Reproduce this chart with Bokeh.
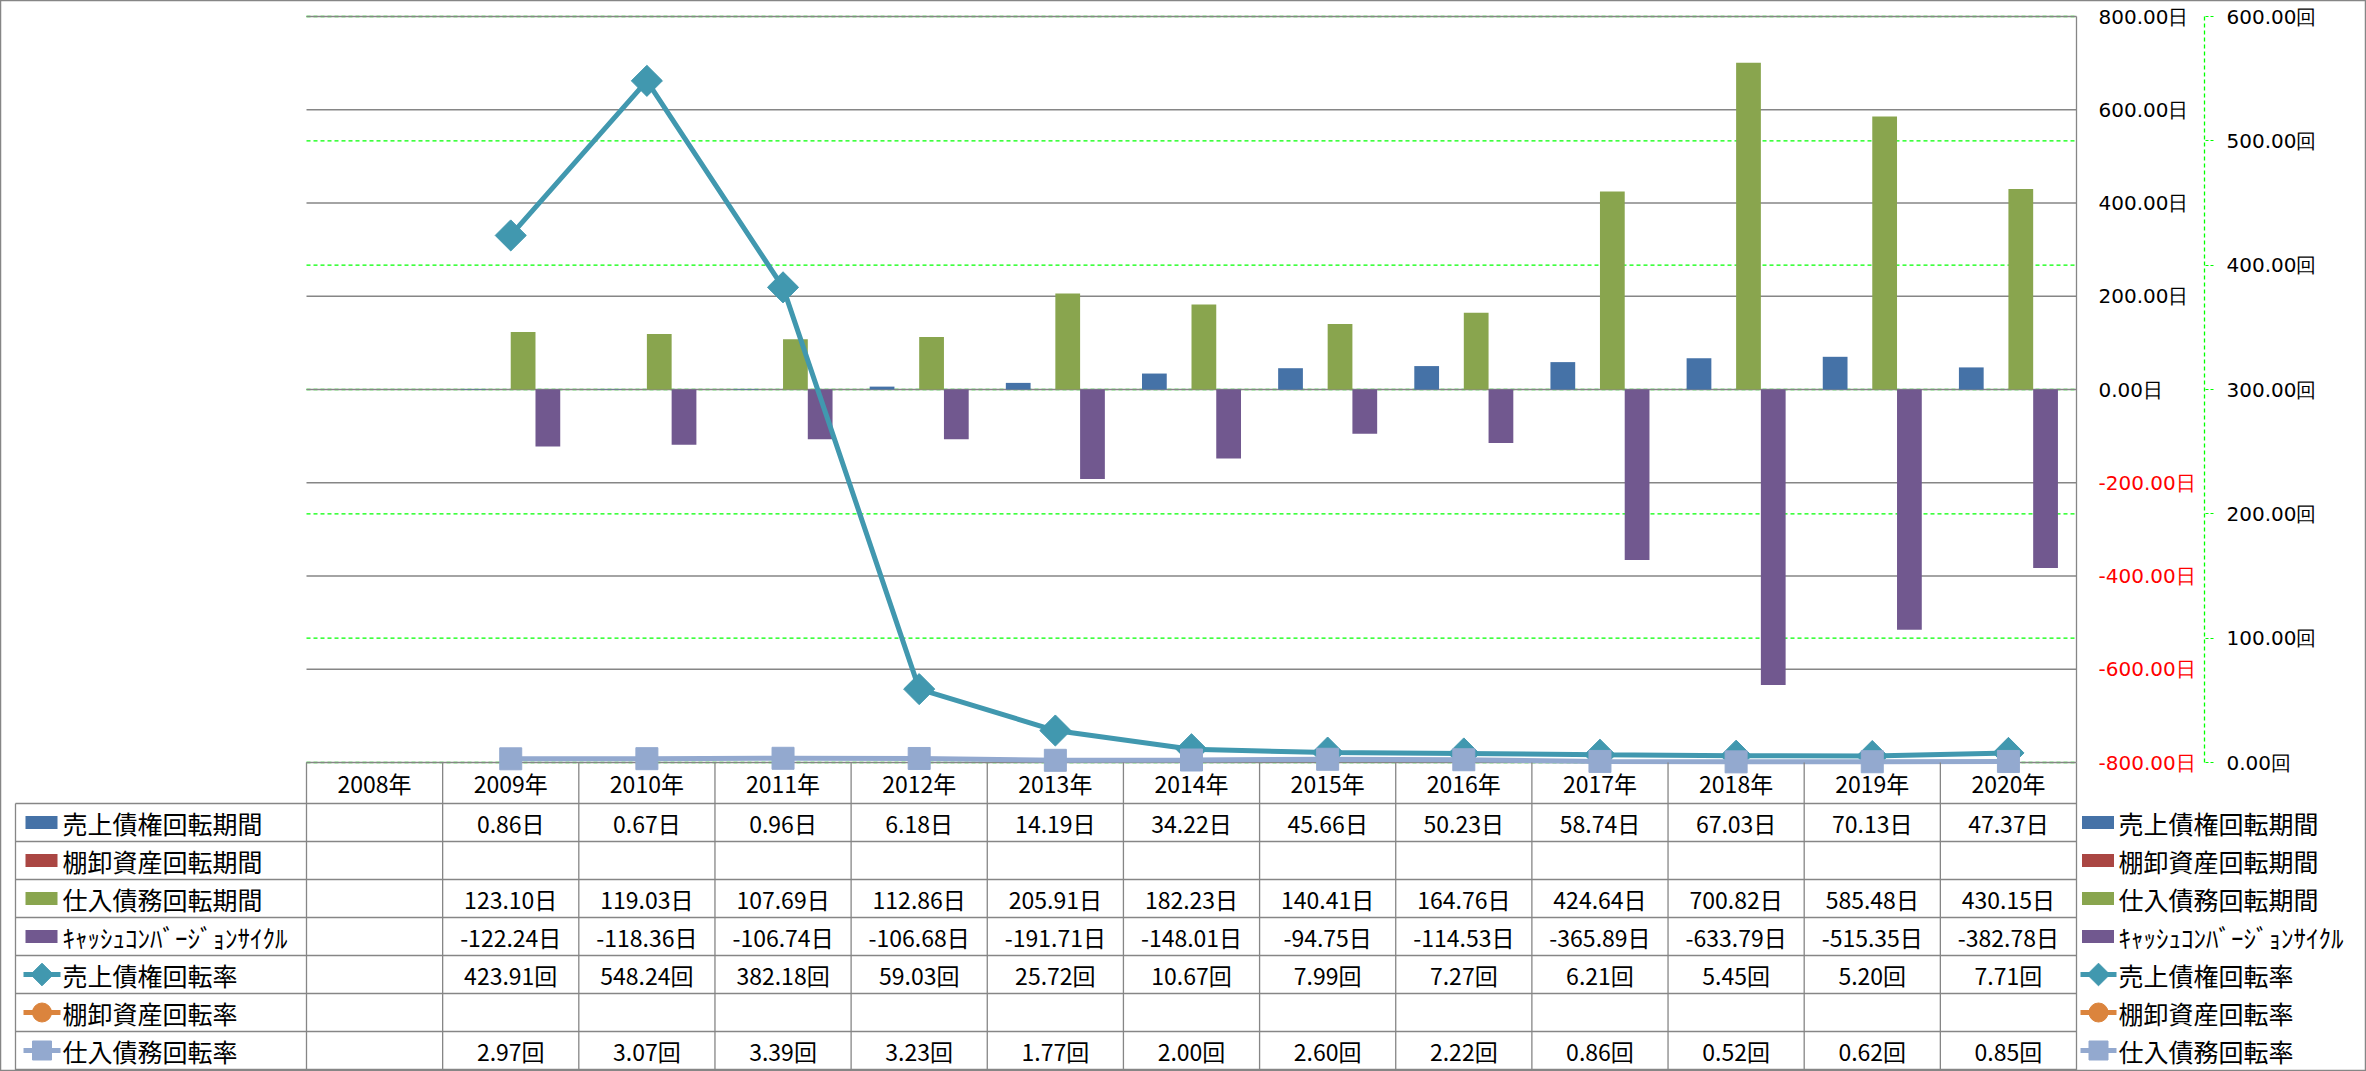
import numpy as np
from bokeh.plotting import figure
from bokeh.models import Range1d, LinearAxis, FixedTicker, CustomJSTickFormatter
from bokeh.embed import file_html
from bokeh.resources import INLINE
from bokeh.core.properties import value

# ---------------- data ----------------
years = ["2008年", "2009年", "2010年", "2011年", "2012年", "2013年", "2014年",
         "2015年", "2016年", "2017年", "2018年", "2019年", "2020年"]
ar_days = [None, 0.86, 0.67, 0.96, 6.18, 14.19, 34.22, 45.66, 50.23, 58.74, 67.03, 70.13, 47.37]
inv_days = [None] * 13
ap_days = [None, 123.10, 119.03, 107.69, 112.86, 205.91, 182.23, 140.41, 164.76, 424.64, 700.82, 585.48, 430.15]
ccc_days = [None, -122.24, -118.36, -106.74, -106.68, -191.71, -148.01, -94.75, -114.53, -365.89, -633.79, -515.35, -382.78]
ar_turn = [None, 423.91, 548.24, 382.18, 59.03, 25.72, 10.67, 7.99, 7.27, 6.21, 5.45, 5.20, 7.71]
inv_turn = [None] * 13
ap_turn = [None, 2.97, 3.07, 3.39, 3.23, 1.77, 2.00, 2.60, 2.22, 0.86, 0.52, 0.62, 0.85]

series_names = ["売上債権回転期間", "棚卸資産回転期間", "仕入債務回転期間", "ｷｬｯｼｭｺﾝﾊﾞｰｼﾞｮﾝｻｲｸﾙ",
                "売上債権回転率", "棚卸資産回転率", "仕入債務回転率"]
series_units = ["日", "日", "日", "日", "回", "回", "回"]
primary_ticks = [-800, -600, -400, -200, 0, 200, 400, 600, 800]
secondary_ticks = [0, 100, 200, 300, 400, 500, 600]

# ---------------- layout / style ----------------
W, H = 2366, 1071
PL, PR, PT, PB = 306, 2076, 16, 762          # plot area in px
HDR_B, ROW_H = 803, 38                        # table header bottom, row height
LEG_L = 15                                    # table legend column left edge
SEC_AXIS_X = 2204
n = len(years)
col = (PR - PL) / n
Y1MIN, Y1MAX = -800, 800
Y2MIN, Y2MAX = 0, 600
k1 = (PB - PT) / (Y1MAX - Y1MIN)
k2 = (PB - PT) / (Y2MAX - Y2MIN)

C_BLUE, C_RED, C_GREEN, C_PURPLE = "#4572A7", "#AA4643", "#89A54E", "#71588F"
C_TEAL, C_ORANGE, C_LBLUE = "#4198AF", "#DB843D", "#93A9CF"
GRID = "#868686"
FONT = "Noto Sans CJK JP"
AXFONT = "DejaVu Sans"


def arr(v):
    return np.array([np.nan if a is None else a for a in v], dtype=float)


p = figure(width=W, height=H, output_backend="svg", toolbar_location=None,
           x_range=Range1d(-PL / col, (W - PL) / col),
           y_range=Range1d(Y1MIN - (H - PB) / k1, Y1MAX + PT / k1),
           x_axis_type=None, y_axis_type=None, min_border=0)
p.extra_x_ranges = {"px": Range1d(0, W)}
p.extra_y_ranges = {"sec": Range1d(Y2MIN - (H - PB) / k2, Y2MAX + PT / k2),
                    "px": Range1d(H, 0)}
p.outline_line_color = GRID
p.outline_line_width = 1.5
p.background_fill_color = "white"
p.border_fill_color = "white"

xc = np.arange(n) + 0.5

# gridlines
p.segment(x0=0, x1=n, y0=secondary_ticks, y1=secondary_ticks, y_range_name="sec",
          line_color="#00FF00", line_width=1.3, line_dash="4 3")
p.segment(x0=0, x1=n, y0=primary_ticks, y1=primary_ticks,
          line_color=GRID, line_width=1.3)

# bars
bw = 1 / 5.5
bar_series = [(ar_days, C_BLUE), (inv_days, C_RED), (ap_days, C_GREEN), (ccc_days, C_PURPLE)]
for j, (vals, c) in enumerate(bar_series):
    p.vbar(x=xc + (j - 1.5) * bw, top=arr(vals), bottom=0, width=bw,
           fill_color=c, line_color=None)

# lines
p.line(xc, arr(ar_turn), y_range_name="sec", line_color=C_TEAL, line_width=5)
p.scatter(xc, arr(ar_turn), y_range_name="sec", marker="square", angle=np.pi / 4,
          size=22, fill_color=C_TEAL, line_color=C_TEAL)
p.line(xc, arr(inv_turn), y_range_name="sec", line_color=C_ORANGE, line_width=5)
p.scatter(xc, arr(inv_turn), y_range_name="sec", marker="circle",
          size=22, fill_color=C_ORANGE, line_color=C_ORANGE)
p.line(xc, arr(ap_turn), y_range_name="sec", line_color=C_LBLUE, line_width=5)
p.scatter(xc, arr(ap_turn), y_range_name="sec", marker="square",
          size=22, fill_color=C_LBLUE, line_color=C_LBLUE)

# ---------------- data table ----------------
row_tops = [HDR_B + ROW_H * r for r in range(len(series_names) + 1)]
row_centers = [HDR_B + ROW_H * r + ROW_H / 2 for r in range(len(series_names))]
# horizontal lines
p.segment(x0=LEG_L, x1=PR, y0=row_tops, y1=row_tops, x_range_name="px", y_range_name="px",
          line_color=GRID, line_width=1.3)
# vertical category lines
p.segment(x0=list(range(n + 1)), x1=list(range(n + 1)), y0=PB, y1=H, y_range_name="px",
          line_color=GRID, line_width=1.3)
p.segment(x0=[n], x1=[n], y0=[PT], y1=[PB], y_range_name="px", line_color=GRID, line_width=1.3)
p.segment(x0=[LEG_L], x1=[LEG_L], y0=[HDR_B], y1=[H], x_range_name="px", y_range_name="px",
          line_color=GRID, line_width=1.3)

# header
p.text(x=xc, y=[(PB + HDR_B) / 2] * n, text=years, y_range_name="px",
       text_align="center", text_baseline="middle", text_font=value(FONT),
       text_font_size="23px", text_color="black")

all_vals = [ar_days, inv_days, ap_days, ccc_days, ar_turn, inv_turn, ap_turn]
for r, (vals, unit) in enumerate(zip(all_vals, series_units)):
    txt = ["" if v is None else f"{v:.2f}{unit}" for v in vals]
    p.text(x=xc, y=[row_centers[r]] * n, text=txt, y_range_name="px",
           text_align="center", text_baseline="middle", text_font=value(FONT),
           text_font_size="23px", text_color="black")

# legend keys (in table and at right)
key_cols = [C_BLUE, C_RED, C_GREEN, C_PURPLE, C_TEAL, C_ORANGE, C_LBLUE]
key_markers = [None, None, None, None, "diamond", "circle", "square"]
for r, name in enumerate(series_names):
    yc = row_centers[r]
    if key_markers[r] is None:
        p.rect(x=[41, 2097.5], y=[yc, yc], width=32, height=13, x_range_name="px",
               y_range_name="px", fill_color=key_cols[r], line_color=None)
    else:
        p.segment(x0=[23, 2080], x1=[60, 2116], y0=[yc, yc], y1=[yc, yc], x_range_name="px",
                  y_range_name="px", line_color=key_cols[r], line_width=5)
        if key_markers[r] == "diamond":
            p.scatter(x=[41.5, 2098], y=[yc, yc], marker="square", angle=np.pi / 4, size=16,
                      x_range_name="px", y_range_name="px",
                      fill_color=key_cols[r], line_color=key_cols[r])
        else:
            p.scatter(x=[41.5, 2098], y=[yc, yc], marker=key_markers[r], size=19,
                      x_range_name="px", y_range_name="px",
                      fill_color=key_cols[r], line_color=key_cols[r])
    p.text(x=[62, 2118], y=[yc, yc], text=[name, name], x_range_name="px", y_range_name="px",
           text_align="left", text_baseline="middle", text_font=value(FONT),
           text_font_size="25px", text_color="black")

# ---------------- axes ----------------
fmt_day = CustomJSTickFormatter(code="return tick.toFixed(2) + '日';")
fmt_kai = CustomJSTickFormatter(code="return tick.toFixed(2) + '回';")

for ticks, colr in [([t for t in primary_ticks if t >= 0], "black"),
                    ([t for t in primary_ticks if t < 0], "#FF0000")]:
    ax = LinearAxis(ticker=FixedTicker(ticks=ticks), formatter=fmt_day,
                    fixed_location=PR, x_range_name="px", bounds=(Y1MIN, Y1MAX),
                    axis_line_color=None, major_tick_line_color=None,
                    minor_tick_line_color=None, major_tick_in=0, major_tick_out=0,
                    major_label_standoff=22, major_label_text_font=AXFONT,
                    major_label_text_font_size="20px", major_label_text_color=colr)
    p.add_layout(ax, "right")

ax2 = LinearAxis(ticker=FixedTicker(ticks=secondary_ticks), formatter=fmt_kai,
                 fixed_location=SEC_AXIS_X, x_range_name="px", y_range_name="sec",
                 bounds=(Y2MIN, Y2MAX),
                 axis_line_color="#00FF00", axis_line_dash="4 3", axis_line_width=1.3,
                 major_tick_line_color="#00FF00", major_tick_line_dash="3 2",
                 major_tick_in=0, major_tick_out=9, minor_tick_line_color=None,
                 major_label_standoff=13, major_label_text_font=AXFONT,
                 major_label_text_font_size="20px", major_label_text_color="black")
p.add_layout(ax2, "right")

with open("out.html", "w", encoding="utf-8") as f:
    f.write(file_html(p, INLINE, title="回転期間・回転率"))
